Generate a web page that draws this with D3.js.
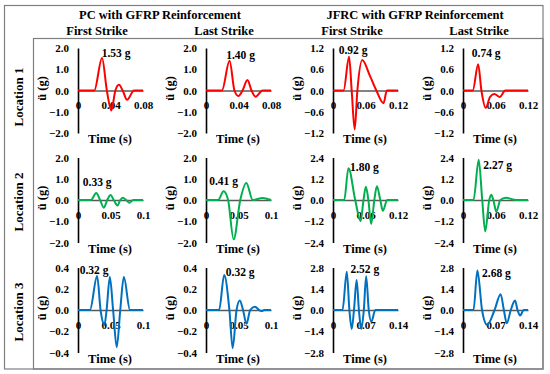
<!DOCTYPE html>
<html>
<head>
<meta charset="utf-8">
<script src="https://cdn.jsdelivr.net/npm/d3@7"></script>
<style>
  body { margin: 0; background: #fff; }
  svg text { font-family: "Liberation Serif", "DejaVu Serif", serif; font-weight: bold; fill: #000; }
</style>
</head>
<body>
<div id="scene"></div>
<script>
// ---- data ----
var groupTitles = ["PC with GFRP Reinforcement", "JFRC with GFRP Reinforcement"];
var strikeTitles = ["First Strike", "Last Strike", "First Strike", "Last Strike"];
var rowTitles = ["Location 1", "Location 2", "Location 3"];
var seriesColors = ["#ff0000", "#00b050", "#0070c0"];

// y limits (symmetric) per row / column
var yLimits = [
  [2.0, 2.0, 1.2, 1.2],
  [2.0, 2.0, 2.4, 2.4],
  [0.4, 0.4, 2.8, 2.8]
];
// x limits and tick labels
var xLimits = [
  [0.08, 0.08, 0.12, 0.12],
  [0.1, 0.1, 0.12, 0.12],
  [0.1, 0.1, 0.14, 0.14]
];
var xTickLabels = [
  [["0", "0.04", "0.08"], ["0", "0.04", "0.08"], ["0", "0.06", "0.12"], ["0", "0.06", "0.12"]],
  [["0", "0.05", "0.1"], ["0", "0.05", "0.1"], ["0", "0.06", "0.12"], ["0", "0.06", "0.12"]],
  [["0", "0.05", "0.1"], ["0", "0.05", "0.1"], ["0", "0.07", "0.14"], ["0", "0.07", "0.14"]]
];
var peakLabels = [
  ["1.53 g", "1.40 g", "0.92 g", "0.74 g"],
  ["0.33 g", "0.41 g", "1.80 g", "2.27 g"],
  ["0.32 g", "0.32 g", "2.52 g", "2.68 g"]
];

// time (s), acceleration (g); the third point is the first peak
var pcFirst1 = [[0,0],[0.02,0],[0.0296,1.53],[0.0355,0],[0.041,-0.94],[0.046,0],[0.0504,0.27],[0.055,0],[0.0604,-0.44],[0.069,0],[0.08,0]];
var pcLast1 = [[0,0],[0.0196,0],[0.029,1.40],[0.035,0],[0.040,-0.26],[0.045,0],[0.051,0.49],[0.056,0],[0.061,-0.29],[0.0696,0],[0.08,0]];
var jfrcFirst1 = [[0,0],[0.0195,0],[0.0297,0.95],[0.0345,0],[0.040,-1.1],[0.045,0],[0.054,0.86],[0.068,0.42],[0.080,0],[0.0933,-0.36],[0.0994,0],[0.12,0]];
var jfrcLast1 = [[0,0],[0.018,0],[0.028,0.74],[0.034,0],[0.042,-0.49],[0.05,-0.18],[0.058,-0.1],[0.068,-0.18],[0.078,0],[0.12,0]];

var pcFirst2 = [[0,0],[0.02,0],[0.028,0.33],[0.034,0],[0.0397,-0.36],[0.045,0],[0.050,0.23],[0.055,0],[0.0607,-0.26],[0.065,0],[0.069,0.11],[0.074,0],[0.079,-0.13],[0.085,0],[0.1,0]];
var pcLast2 = [[0,0],[0.0187,0],[0.027,0.41],[0.034,0],[0.0425,-1.85],[0.0527,0],[0.062,0.8],[0.072,0],[0.087,0.1],[0.1,0]];
var jfrcFirst2 = [[0,0],[0.0207,0],[0.0285,1.80],[0.041,0],[0.051,-1.2],[0.0563,0],[0.0607,0.75],[0.0653,0],[0.0705,-1.36],[0.0763,0],[0.081,0.78],[0.0873,0],[0.092,-0.61],[0.1,0],[0.12,0]];
var jfrcLast2 = [[0,0],[0.0194,0],[0.029,2.27],[0.0355,0],[0.041,-1.77],[0.0485,0],[0.052,0.3],[0.056,0],[0.0615,-0.65],[0.069,0],[0.079,0.13],[0.098,0],[0.12,0]];

var pcFirst3 = [[0,0],[0.0184,0],[0.0294,0.32],[0.0347,0],[0.0407,-0.14],[0.044,0],[0.049,0.31],[0.054,0],[0.0596,-0.35],[0.065,0],[0.0705,0.31],[0.080,0],[0.1,0]];
var pcLast3 = [[0,0],[0.0202,0],[0.028,0.33],[0.036,0],[0.041,-0.36],[0.047,0],[0.052,0.09],[0.057,0],[0.0623,-0.13],[0.068,0],[0.075,0.03],[0.085,-0.01],[0.09,0],[0.1,0]];
var jfrcFirst3 = [[0,0],[0.0205,0],[0.0297,2.52],[0.0353,0],[0.0403,-1.25],[0.0452,0],[0.0509,1.98],[0.0558,0],[0.0608,-1.25],[0.0664,0],[0.0714,2.23],[0.077,0],[0.0827,-0.77],[0.0912,0],[0.14,0]];
var jfrcLast3 = [[0,0],[0.0226,0],[0.031,2.6],[0.041,0],[0.052,-0.98],[0.068,0],[0.081,1.04],[0.088,0],[0.0942,-0.87],[0.103,0],[0.112,0.62],[0.1175,0],[0.123,-0.36],[0.131,0],[0.14,0]];

var series = [
  [pcFirst1, pcLast1, jfrcFirst1, jfrcLast1],
  [pcFirst2, pcLast2, jfrcFirst2, jfrcLast2],
  [pcFirst3, pcLast3, jfrcFirst3, jfrcLast3]
];

// ---- layout ----
var ctx = {
  w: 550, h: 374,
  colX: [78, 206, 333, 463],
  plotW: 65,
  rowZero: [90.5, 200, 310],
  halfH: 42.5,
  // peak label offset from the first peak
  labelOff: [
    [[14, -5], [11, -6], [4, -7], [8, -11]],
    [[1, -11], [0, -10], [16, -1], [19, 5]],
    [[-3, -6], [16, -3], [18, -3], [19, 2]]
  ]
};

var svg = d3.select("#scene").append("svg")
  .attr("width", ctx.w)
  .attr("height", ctx.h);

// frames
svg.append("rect").attr("x", 4.5).attr("y", 5.5).attr("width", 538.5).attr("height", 363.5)
  .attr("fill", "none").attr("stroke", "#7f7f7f").attr("stroke-width", 1.2);
svg.append("rect").attr("x", 33.5).attr("y", 38.5).attr("width", 509.5).attr("height", 330.5)
  .attr("fill", "none").attr("stroke", "#7f7f7f").attr("stroke-width", 1.2);

// titles
svg.selectAll(".group").data(groupTitles).enter().append("text")
  .attr("x", function(d, i) { return i == 0 ? 160 : 415; })
  .attr("y", 18.5)
  .attr("text-anchor", "middle")
  .style("font-size", "12.5px")
  .text(function(d) { return d; });

svg.selectAll(".strike").data(strikeTitles).enter().append("text")
  .attr("x", function(d, i) { return [97, 224, 352, 479][i]; })
  .attr("y", 35)
  .attr("text-anchor", "middle")
  .style("font-size", "12.5px")
  .text(function(d) { return d; });

svg.selectAll(".loc").data(rowTitles).enter().append("text")
  .attr("transform", function(d, i) { return "translate(23," + [97, 202, 312][i] + ") rotate(-90)"; })
  .attr("text-anchor", "middle")
  .style("font-size", "13px")
  .text(function(d) { return d; });

var line = d3.line().curve(d3.curveMonotoneX);

for (let r = 0; r < 3; r++) {
  for (let c = 0; c < 4; c++) {
    let ax = ctx.colX[c];
    let z = ctx.rowZero[r];
    let ym = yLimits[r][c];
    let xm = xLimits[r][c];

    let x = d3.scaleLinear().domain([0, xm]).range([ax, ax + ctx.plotW]);
    let y = d3.scaleLinear().domain([-ym, ym]).range([z + ctx.halfH, z - ctx.halfH]);

    let g = svg.append("g");

    // x axis at zero
    let xAxis = d3.axisBottom(x)
      .tickValues([0, xm / 2, xm])
      .tickSize(0)
      .tickPadding(11)
      .tickFormat(function(d, i) { return xTickLabels[r][c][i]; });
    let gx = g.append("g").attr("transform", "translate(0," + y(0) + ")").call(xAxis);
    gx.attr("font-family", null).attr("font-size", null);
    gx.select(".domain").attr("stroke", "#595959").attr("stroke-width", 1.5);
    gx.selectAll("text").style("font-size", "11px");

    // y axis
    let yAxis = d3.axisLeft(y)
      .tickValues([ym, ym / 2, 0, -ym / 2, -ym])
      .tickSize(0)
      .tickPadding(9)
      .tickFormat(d3.format(".1f"));
    let gy = g.append("g").attr("transform", "translate(" + ax + ",0)").call(yAxis);
    gy.attr("font-family", null).attr("font-size", null);
    gy.select(".domain").attr("stroke", "#000").attr("stroke-width", 1.6);
    gy.selectAll("text").style("font-size", "11px");

    // axis titles
    g.append("text")
      .attr("transform", "translate(" + (ax - 32) + "," + (z - 2) + ") rotate(-90)")
      .attr("text-anchor", "middle")
      .style("font-size", "12.5px")
      .text("ü (g)");
    g.append("text")
      .attr("x", ax + 32)
      .attr("y", z + ctx.halfH + 10)
      .attr("text-anchor", "middle")
      .style("font-size", "12.5px")
      .text("Time (s)");

    // series
    let data = series[r][c];
    g.append("path")
      .attr("d", line(data.map(function(p) { return [x(p[0]), y(p[1])]; })))
      .attr("fill", "none")
      .attr("stroke", seriesColors[r])
      .attr("stroke-width", 2);

    // peak label next to the first peak
    let peak = data[2];
    let off = ctx.labelOff[r][c];
    g.append("text")
      .attr("x", x(peak[0]) + off[0])
      .attr("y", y(peak[1]) + off[1])
      .attr("dy", "0.35em")
      .attr("text-anchor", "middle")
      .style("font-size", "11.5px")
      .text(peakLabels[r][c]);
  }
}
</script>
</body>
</html>
